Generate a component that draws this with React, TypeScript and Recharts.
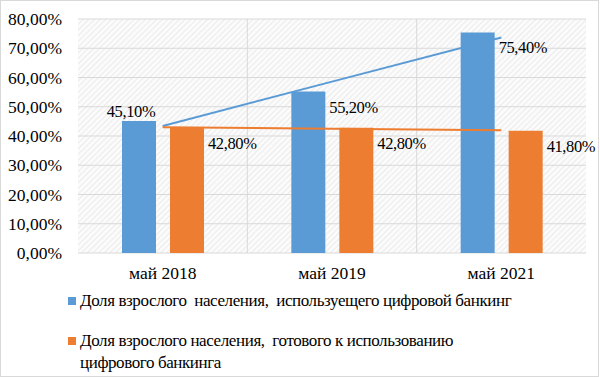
import {
  Bar,
  CartesianGrid,
  ComposedChart,
  LabelList,
  Legend,
  Line,
  XAxis,
  YAxis,
} from "recharts";

const categories = ["май 2018", "май 2019", "май 2021"];
const usingDigital = [45.1, 55.2, 75.4];
const readyForDigital = [42.8, 42.8, 41.8];
// linear trendlines at the category centres
const usingTrend = [43.4, 58.6, 73.7];
const readyTrend = [43.0, 42.5, 42.0];
const yTicks = [0, 10, 20, 30, 40, 50, 60, 70, 80];

const seriesNames = [
  "Доля взрослого  населения,  используещего цифровой банкинг",
  "Доля взрослого населения,  готового к использованию цифрового банкинга",
];

const BLUE = "#5B9BD5";
const ORANGE = "#ED7D31";
const FONT = "'Liberation Serif', serif";

const data = categories.map((name, i) => ({
  name,
  using: usingDigital[i],
  ready: readyForDigital[i],
  usingTrend: usingTrend[i],
  readyTrend: readyTrend[i],
}));

const fmt = (v: number) => v.toFixed(2).replace(".", ",") + "%";

function BarLabel(props: any) {
  const { x, y, width, value, index, above } = props;
  if (above && index === 0) {
    return (
      <text x={x + width / 2 - 8} y={y - 4} textAnchor="middle" fontFamily={FONT} fontSize={16.5} letterSpacing={-0.4} fill="#000">
        {fmt(value)}
      </text>
    );
  }
  return (
    <text x={x + width + 4} y={y + 21} textAnchor="start" fontFamily={FONT} fontSize={16.5} letterSpacing={-0.4} fill="#000">
      {fmt(value)}
    </text>
  );
}

function LegendBox(props: any) {
  const items = (props.payload || []).filter((p: any) => p.type !== "none");
  return (
    <div style={{ fontFamily: FONT, fontSize: 17, color: "#000", paddingLeft: 68, paddingTop: 1, textAlign: "left" }}>
      {items.map((p: any, i: number) => (
        <div key={i} style={{ display: "flex", alignItems: "flex-start", marginBottom: i === 0 ? 18 : 0, lineHeight: "22px" }}>
          <span style={{ width: 8, height: 8, background: p.color, marginTop: 7, marginRight: 4, flex: "none" }} />
          <span style={{ maxWidth: i === 1 ? 420 : 520, letterSpacing: -0.4, whiteSpace: "pre-wrap" }}>{p.value}</span>
        </div>
      ))}
    </div>
  );
}

export default function App() {
  return (
    <div style={{ position: "absolute", left: 0, top: 0, width: 600, height: 377, fontFamily: FONT }}>
      <style>{"body{margin:0}"}</style>
      <div style={{ position: "absolute", left: 0, top: 0, width: 597, height: 375, border: "1px solid #d9d9d9", background: "#fff" }} />
      <ComposedChart
        width={600}
        height={377}
        data={data}
        margin={{ top: 19, right: 14, bottom: 0, left: 0 }}
        barCategoryGap={44}
        barGap={14}
        style={{ position: "absolute", left: 0, top: 0, fontFamily: FONT }}
      >
        <defs>
          <pattern id="hatch" width="4" height="4" patternUnits="userSpaceOnUse" patternTransform="rotate(45)">
            <rect width="4" height="4" fill="#fbfbfb" />
            <line x1="0" y1="0" x2="0" y2="4" stroke="#e6e6e6" strokeWidth="1.5" />
          </pattern>
        </defs>
        <CartesianGrid
          stroke="#d9d9d9"
          fill="url(#hatch)"
          fillOpacity={1}
          verticalCoordinatesGenerator={({ offset }: any) => [
            offset.left + offset.width / 3,
            offset.left + (2 * offset.width) / 3,
          ]}
        />
        <XAxis
          dataKey="name"
          axisLine={false}
          tickLine={false}
          height={36}
          tick={{ fontFamily: FONT, fontSize: 17.5, fill: "#000" }}
          tickMargin={8}
        />
        <YAxis
          domain={[0, 80]}
          ticks={yTicks}
          width={78}
          axisLine={false}
          tickLine={false}
          tickMargin={10}
          tickFormatter={fmt}
          tick={{ fontFamily: FONT, fontSize: 17.5, fill: "#000" }}
        />
        <Legend verticalAlign="bottom" height={88} content={<LegendBox />} />
        <Bar dataKey="using" name={seriesNames[0]} fill={BLUE} isAnimationActive={false}>
          <LabelList dataKey="using" content={(p: any) => <BarLabel {...p} above />} />
        </Bar>
        <Bar dataKey="ready" name={seriesNames[1]} fill={ORANGE} isAnimationActive={false}>
          <LabelList dataKey="ready" content={(p: any) => <BarLabel {...p} />} />
        </Bar>
        <Line
          dataKey="usingTrend"
          type="linear"
          stroke={BLUE}
          strokeWidth={2}
          dot={false}
          activeDot={false}
          legendType="none"
          isAnimationActive={false}
        />
        <Line
          dataKey="readyTrend"
          type="linear"
          stroke={ORANGE}
          strokeWidth={2}
          dot={false}
          activeDot={false}
          legendType="none"
          isAnimationActive={false}
        />
      </ComposedChart>
    </div>
  );
}
